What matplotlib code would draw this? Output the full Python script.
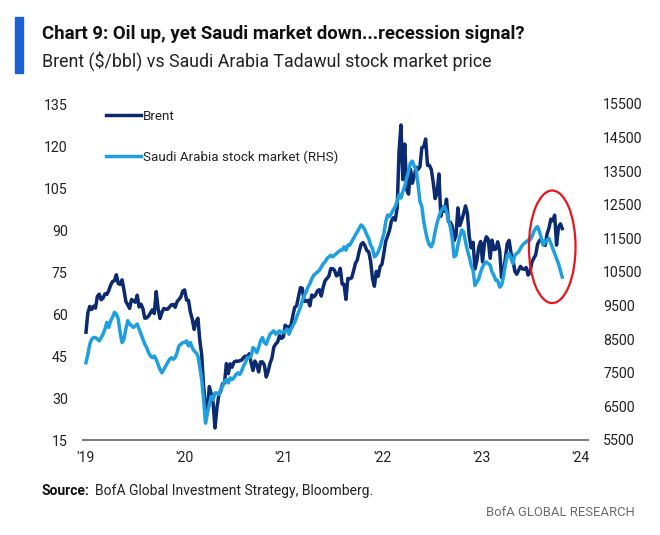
import numpy as np
import pandas as pd
import matplotlib
matplotlib.use("Agg")
import matplotlib.pyplot as plt
import matplotlib.dates as mdates
from matplotlib.patches import Ellipse, Rectangle

# ---------------- data (weekly, Fridays, from 2019-01-04) ----------------
brent = [
    # 2019
    53.5, 60.5, 62.7, 61.6,
    62.8, 62.1, 66.3, 67.1,
    65.1, 65.7, 67.2, 67.0, 68.4,
    70.3, 71.6, 71.9, 74.0,
    70.9, 70.6, 72.2, 68.7, 64.5,
    63.3, 62.0, 65.2, 64.7,
    64.2, 66.7, 62.5, 63.5,
    61.9, 58.5, 58.6, 59.3, 60.4,
    61.5, 60.2, 68.0, 62.0,
    58.4, 60.5, 62.0, 61.7,
    61.7, 62.5, 63.3, 63.4, 62.4,
    64.4, 65.2, 66.1, 68.2,
    # 2020
    68.6, 65.0, 64.9, 60.7, 58.2,
    54.5, 57.3, 58.5, 50.5,
    45.3, 33.9, 27.0, 25.0,
    34.1, 31.5, 28.1, 19.3,
    26.4, 31.0, 32.5, 35.1, 35.3,
    42.3, 38.7, 42.2, 41.0,
    42.8, 43.2, 43.1, 43.3, 43.5,
    44.4, 45.0, 44.4, 45.8,
    42.7, 39.8, 43.2, 41.9,
    39.3, 42.9, 42.9, 41.8, 37.5,
    39.5, 42.4, 44.2, 48.2,
    49.3, 50.0, 52.3, 51.3,
    # 2021
    51.8, 56.0, 55.1, 55.4, 55.9,
    59.3, 62.4, 62.9, 66.1,
    69.4, 69.2, 64.5, 64.6,
    64.9, 62.9, 66.8, 66.1, 66.8,
    68.3, 68.7, 66.4, 69.6,
    71.9, 72.7, 73.5, 76.2,
    76.2, 75.6, 73.6, 74.1, 76.3,
    70.7, 70.6, 65.2, 72.7,
    72.6, 72.9, 75.3, 78.1,
    79.3, 82.4, 84.9, 85.5, 84.4,
    82.7, 82.2, 78.9, 72.7,
    69.9, 75.2, 73.5, 76.9, 77.8,
    # 2022
    81.8, 86.1, 87.9, 90.0,
    93.3, 94.4, 93.5, 97.9,
    118.1, 127.5, 108.0, 120.7,
    104.4, 102.8, 111.7, 106.7, 109.3,
    112.4, 111.6, 112.6, 119.4,
    119.7, 122.5, 113.1, 113.1,
    111.6, 107.0, 101.2, 103.2, 110.0,
    94.9, 98.2, 96.7, 101.0,
    93.0, 92.8, 91.4, 86.2, 88.0,
    97.9, 91.6, 93.5, 95.8,
    98.6, 96.0, 87.6, 83.6,
    85.6, 76.1, 79.0, 83.9, 85.9,
    # 2023
    78.6, 85.3, 87.6, 86.7,
    79.9, 86.4, 83.0, 83.2,
    85.8, 82.8, 73.0, 75.0, 79.8,
    85.1, 86.3, 81.7, 79.5,
    75.3, 74.2, 75.6, 77.0,
    76.1, 76.0, 76.6, 73.9, 74.9,
    78.5, 79.9, 81.1, 85.0,
    86.2, 86.8, 84.8, 84.5,
    88.6, 90.7, 93.9, 93.3, 95.3,
    84.6, 90.9, 92.2, 90.5,
]

tadawul = [
    # 2019
    7800, 8050, 8350, 8500,
    8550, 8550, 8500, 8450,
    8550, 8650, 8800, 9000, 8850,
    9050, 9150, 9300, 9250,
    9100, 8700, 8400, 8500, 8800,
    9050, 8950, 8900, 8850,
    8900, 8950, 8800, 8650,
    8500, 8350, 8250, 8100, 8000,
    7950, 8000, 7900, 7750,
    7600, 7500, 7600, 7700,
    7800, 7900, 7950, 7900, 7950,
    8100, 8300, 8350, 8400,
    # 2020
    8400, 8450, 8300, 8400, 8250,
    8150, 8100, 8000, 7650,
    7300, 6700, 6000, 6300,
    6550, 6800, 6700, 6900,
    6900, 6850, 7000, 7100, 7250,
    7300, 7200, 7350, 7300,
    7350, 7450, 7500, 7450, 7550,
    7700, 7800, 7950, 7950,
    8000, 8250, 8200, 8100,
    8250, 8450, 8550, 8400, 8350,
    8500, 8650, 8700, 8750,
    8650, 8700, 8750, 8700,
    # 2021
    8700, 8750, 8800, 8650, 8800,
    8900, 9000, 9150, 9300,
    9450, 9650, 9800, 9900,
    10050, 10150, 10300, 10400, 10450,
    10500, 10550, 10650, 10750,
    10800, 10900, 10950, 11000,
    10950, 11000, 11050, 11100, 11150,
    11150, 11250, 11150, 11300,
    11300, 11400, 11500, 11600,
    11700, 11800, 11900, 11850, 11750,
    11600, 11500, 11300, 11200,
    10950, 11000, 11100, 11250, 11450,
    # 2022
    11650, 12000, 12200, 12150,
    12250, 12350, 12450, 12600,
    12800, 12700, 12900, 13050,
    13300, 13500, 13750, 13800, 13650,
    13550, 13100, 12600, 12450,
    12000, 11700, 11450, 11300,
    11250, 11400, 11700, 11950, 12150,
    12300, 12400, 12450, 12300,
    12050, 11850, 11500, 10950, 11000,
    11300, 11550, 11750, 11700,
    11400, 11150, 10950, 10700,
    10550, 10100, 10200, 10300, 10500,
    # 2023
    10650, 10750, 10800, 10750,
    10700, 10500, 10400, 10250,
    10250, 10050, 10100, 10350, 10700,
    11000, 11050, 10900, 10750,
    11000, 11050, 11100, 11200,
    11300, 11350, 11400, 11450, 11450,
    11550, 11700, 11800, 11850,
    11700, 11500, 11300, 11400,
    11450, 11500, 11350, 11200, 11050,
    10900, 10750, 10550, 10350,
]

left_ticks = [15, 30, 45, 60, 75, 90, 105, 120, 135]
right_ticks = [5500, 6500, 7500, 8500, 9500, 10500, 11500, 12500, 13500, 14500, 15500]
x_tick_years = [2019, 2020, 2021, 2022, 2023, 2024]
x_tick_labels = ["'19", "'20", "'21", "'22", "'23", "'24"]

title = "Chart 9: Oil up, yet Saudi market down...recession signal?"
subtitle = "Brent ($/bbl) vs Saudi Arabia Tadawul stock market price"

# ---------------- styling ----------------
NAVY = "#0c2a70"
LIGHT = "#1d9fe0"
BAR_BLUE = "#1c5fce"
FONT = ["Roboto", "DejaVu Sans"]
plt.rcParams["font.family"] = FONT

W, H = 660, 535
fig = plt.figure(figsize=(W / 100, H / 100), dpi=100)
ax = fig.add_axes([83 / W, 1 - 440 / H, (588 - 83) / W, (440 - 104) / H])
ax2 = ax.twinx()

dates_b = pd.date_range("2019-01-04", periods=len(brent), freq="W-FRI")
dates_t = pd.date_range("2019-01-04", periods=len(tadawul), freq="W-FRI")

lb, = ax.plot(dates_b, brent, color=NAVY, lw=2.5, solid_joinstyle="round",
              label="Brent")
lt, = ax2.plot(dates_t, tadawul, color=LIGHT, lw=2.5, solid_joinstyle="round",
               label="Saudi Arabia stock market (RHS)")

ax.set_ylim(15, 135)
ax2.set_ylim(5500, 15500)
ax.set_yticks(left_ticks)
ax2.set_yticks(right_ticks)
ax.set_xlim(pd.Timestamp("2018-12-24"), pd.Timestamp("2024-01-30"))
ax.set_xticks([pd.Timestamp(f"{y}-01-01") for y in x_tick_years])
ax.set_xticklabels(x_tick_labels)

for a in (ax, ax2):
    for s in ("top", "left", "right", "bottom"):
        a.spines[s].set_visible(False)
ax.spines["bottom"].set_visible(True)
ax.spines["bottom"].set_color("#7a7a7a")
ax.spines["bottom"].set_linewidth(1.4)

ax.tick_params(axis="y", length=0, pad=11, labelsize=10.2, labelcolor="#222222")
ax2.tick_params(axis="y", length=0, pad=11, labelsize=10.2, labelcolor="#222222")
ax.tick_params(axis="x", length=0, pad=8, labelsize=10.2, labelcolor="#222222")

# red ellipse highlight
ell = Ellipse((mdates.date2num(pd.Timestamp("2023-09-20")), 11250),
              width=172, height=3350, fill=False, edgecolor="#e8141c", lw=1.6,
              zorder=5)
ax2.add_patch(ell)

# legend
leg = fig.legend(handles=[lb, lt], loc="upper left",
                 bbox_to_anchor=(106 / W, 1 - 110 / H), frameon=False,
                 handlelength=2.6, handletextpad=0.2, labelspacing=2.05,
                 borderpad=0, borderaxespad=0,
                 prop={"family": FONT, "size": 9.6})
for t in leg.get_texts():
    t.set_color("#222222")

# title block
fig.patches.append(Rectangle((15 / W, 1 - 73 / H), 8 / W, 56 / H,
                             transform=fig.transFigure, color=BAR_BLUE))
fig.text(42 / W, 1 - 39 / H, title, fontsize=13.4, fontweight="bold",
         color="#111111", va="baseline")
fig.text(42 / W, 1 - 67 / H, subtitle, fontsize=12.8,
         color="#222222", va="baseline")

# footer
fig.text(42 / W, 1 - 491 / H, "Source:", fontsize=10, fontweight="bold",
         color="#111111", va="center")
fig.text(95 / W, 1 - 491 / H, "BofA Global Investment Strategy, Bloomberg.",
         fontsize=10, color="#222222", va="center")
fig.text(635 / W, 1 - 513 / H, "BofA GLOBAL RESEARCH", fontsize=9.4,
         color="#6b6b6b", va="center", ha="right")

fig.savefig("out.png", dpi=100)
